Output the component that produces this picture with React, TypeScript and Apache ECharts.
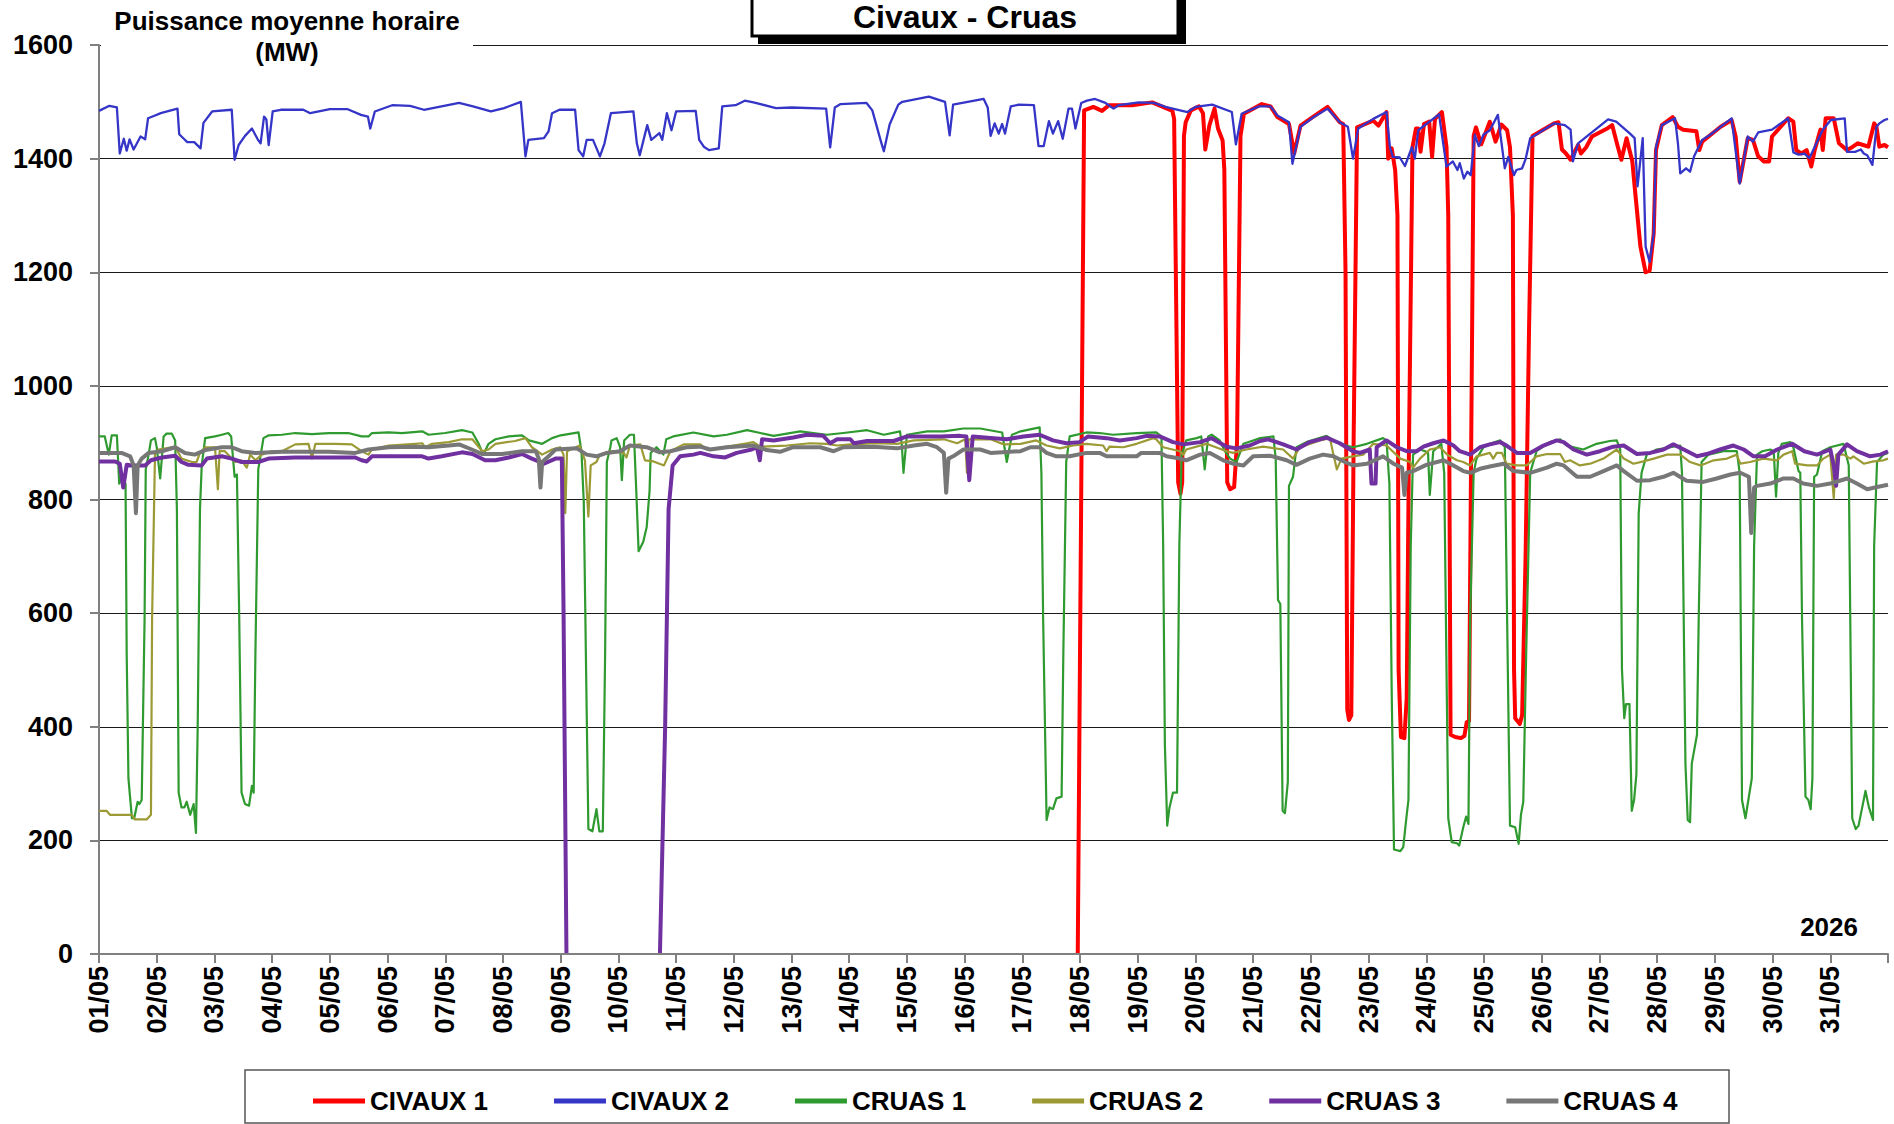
import React, { useEffect, useRef } from "react";
import * as echarts from "echarts";

const dayLabels = [
  "01/05", "02/05", "03/05", "04/05", "05/05", "06/05", "07/05", "08/05", "09/05", "10/05",
  "11/05", "12/05", "13/05", "14/05", "15/05", "16/05", "17/05", "18/05", "19/05", "20/05",
  "21/05", "22/05", "23/05", "24/05", "25/05", "26/05", "27/05", "28/05", "29/05", "30/05", "31/05",
];

const seriesNames = ["CIVAUX 1", "CIVAUX 2", "CRUAS 1", "CRUAS 2", "CRUAS 3", "CRUAS 4"];
const seriesColors = ["#FF0000", "#3535C8", "#2F9A2F", "#9C9A35", "#7030A0", "#777777"];
const seriesWidths = [4, 2.3, 2.2, 2.2, 4, 4];

// [day offset from 01/05 00:00, MW]; "-" = no data
const civaux1 = [
  [16.96, 0], [17.07, 1485], [17.23, 1491], [17.38, 1484], [17.5, 1494], [17.9, 1494], [18.25, 1499],
  [18.6, 1484], [18.63, 1470], [18.7, 830], [18.74, 810], [18.77, 830], [18.8, 1440], [18.83, 1464],
  [18.92, 1485], [19.06, 1492], [19.13, 1480], [19.17, 1416], [19.24, 1458], [19.33, 1488], [19.39, 1453],
  [19.47, 1432], [19.5, 1380], [19.55, 830], [19.6, 818], [19.67, 822], [19.72, 900], [19.78, 1440],
  [19.84, 1479], [20.15, 1496], [20.3, 1492], [20.42, 1473], [20.62, 1461], [20.71, 1409], [20.82, 1458],
  [21.03, 1473], [21.29, 1491], [21.5, 1464], [21.56, 1461], [21.6, 1200], [21.63, 430], [21.66, 412],
  [21.7, 420], [21.74, 900], [21.8, 1455], [22.08, 1467], [22.17, 1458], [22.31, 1482], [22.34, 1400],
  [22.4, 1418], [22.46, 1380], [22.5, 1300], [22.52, 500], [22.56, 382], [22.62, 380], [22.66, 450],
  [22.7, 900], [22.76, 1420], [22.82, 1453], [22.86, 1453], [22.9, 1412], [22.96, 1461], [23.05, 1465],
  [23.1, 1403], [23.15, 1470], [23.27, 1482], [23.35, 1420], [23.38, 1300], [23.42, 386], [23.5, 382],
  [23.6, 380], [23.66, 384], [23.7, 408], [23.74, 410], [23.82, 1440], [23.86, 1455], [23.95, 1425],
  [24.1, 1465], [24.2, 1430], [24.3, 1460], [24.4, 1450], [24.45, 1420], [24.5, 1300], [24.52, 500],
  [24.54, 415], [24.62, 405], [24.66, 420], [24.72, 700], [24.78, 1100], [24.84, 1440], [25.21, 1462],
  [25.29, 1464], [25.35, 1416], [25.42, 1409], [25.5, 1398], [25.63, 1424], [25.68, 1409], [25.77, 1420],
  [25.87, 1439], [26.15, 1454], [26.22, 1459], [26.31, 1424], [26.38, 1398], [26.47, 1436], [26.57, 1395],
  [26.61, 1351], [26.71, 1245], [26.8, 1200], [26.87, 1203], [26.94, 1268], [26.98, 1415], [27.08, 1459],
  [27.27, 1473], [27.36, 1456], [27.45, 1451], [27.68, 1448], [27.73, 1415], [27.78, 1430], [28.1, 1456],
  [28.29, 1468], [28.36, 1439], [28.43, 1359], [28.57, 1436], [28.66, 1433], [28.75, 1404], [28.85, 1395],
  [28.94, 1395], [28.99, 1439], [29.27, 1471], [29.36, 1465], [29.41, 1415], [29.5, 1409], [29.59, 1415],
  [29.67, 1386], [29.73, 1415], [29.83, 1451], [29.87, 1415], [29.92, 1471], [30.06, 1471], [30.15, 1427],
  [30.29, 1415], [30.39, 1421], [30.48, 1427], [30.57, 1424], [30.66, 1421], [30.76, 1462], [30.8, 1456],
  [30.85, 1421], [30.94, 1424], [31, 1420],
];

const civaux2 = [
  [0, 1484], [0.18, 1493], [0.31, 1490], [0.36, 1409], [0.43, 1435], [0.48, 1414], [0.53, 1434], [0.6, 1416],
  [0.72, 1439], [0.8, 1434], [0.85, 1471], [0.95, 1475], [1.07, 1480], [1.36, 1488], [1.39, 1443], [1.47, 1435],
  [1.53, 1429], [1.65, 1429], [1.76, 1418], [1.81, 1463], [1.96, 1483], [2.3, 1486], [2.35, 1398], [2.42, 1424],
  [2.53, 1440], [2.65, 1453], [2.75, 1434], [2.8, 1427], [2.86, 1474], [2.9, 1469], [2.94, 1424], [3.01, 1483],
  [3.15, 1486], [3.54, 1486], [3.66, 1480], [4.0, 1487], [4.31, 1487], [4.54, 1477], [4.66, 1474], [4.7, 1453],
  [4.78, 1483], [5.08, 1494], [5.39, 1493], [5.63, 1486], [6.24, 1498], [6.48, 1492], [6.79, 1483], [7.02, 1489],
  [7.31, 1500], [7.39, 1404], [7.44, 1433], [7.71, 1436], [7.79, 1448], [7.85, 1480], [7.98, 1486], [8.25, 1486],
  [8.31, 1415], [8.39, 1404], [8.45, 1433], [8.56, 1433], [8.68, 1404], [8.76, 1427], [8.87, 1480], [9.26, 1483],
  [9.32, 1427], [9.37, 1406], [9.5, 1459], [9.57, 1433], [9.71, 1445], [9.76, 1433], [9.84, 1480], [9.92, 1450],
  [10.0, 1483], [10.34, 1484], [10.4, 1433], [10.48, 1421], [10.57, 1415], [10.74, 1418], [10.8, 1492],
  [11.03, 1494], [11.19, 1502], [11.34, 1499], [11.73, 1489], [12.0, 1490], [12.6, 1488], [12.67, 1420],
  [12.75, 1490], [12.85, 1496], [13.3, 1498], [13.4, 1485], [13.55, 1430], [13.6, 1413], [13.7, 1460],
  [13.85, 1495], [13.92, 1500], [14.38, 1509], [14.66, 1500], [14.74, 1441], [14.8, 1495], [15.33, 1505],
  [15.4, 1490], [15.45, 1440], [15.52, 1462], [15.59, 1444], [15.65, 1461], [15.7, 1444], [15.8, 1492],
  [15.94, 1495], [16.2, 1494], [16.28, 1422], [16.37, 1422], [16.46, 1466], [16.53, 1444], [16.62, 1466],
  [16.7, 1435], [16.8, 1488], [16.86, 1488], [16.92, 1453], [17.02, 1498], [17.12, 1502], [17.26, 1505],
  [17.44, 1498], [17.58, 1488], [17.67, 1494], [18.02, 1499], [18.28, 1498], [18.48, 1491], [18.86, 1482],
  [19.0, 1491], [19.29, 1495], [19.63, 1482], [19.7, 1425], [19.8, 1479], [20.1, 1492], [20.3, 1492],
  [20.42, 1476], [20.62, 1464], [20.68, 1391], [20.82, 1456], [21.03, 1472], [21.29, 1488], [21.5, 1464],
  [21.64, 1456], [21.73, 1400], [21.82, 1453], [22.08, 1470], [22.31, 1482], [22.37, 1420], [22.42, 1403],
  [22.54, 1402], [22.63, 1387], [22.75, 1420], [22.8, 1400], [22.86, 1450], [23.22, 1478], [23.35, 1386],
  [23.46, 1395], [23.54, 1380], [23.58, 1392], [23.65, 1365], [23.71, 1377], [23.77, 1371], [23.84, 1442],
  [23.91, 1422], [23.99, 1442], [24.1, 1450], [24.24, 1477], [24.36, 1383], [24.42, 1403], [24.52, 1371],
  [24.56, 1380], [24.66, 1383], [24.72, 1399], [24.8, 1436], [25.21, 1462], [25.4, 1459], [25.5, 1451],
  [25.54, 1395], [25.63, 1427], [26.15, 1469], [26.29, 1465], [26.52, 1445], [26.61, 1436], [26.66, 1351],
  [26.75, 1436], [26.8, 1245], [26.87, 1218], [26.94, 1268], [26.98, 1421], [27.08, 1459], [27.31, 1471],
  [27.36, 1427], [27.4, 1374], [27.5, 1383], [27.57, 1377], [27.64, 1404], [27.78, 1433], [27.92, 1442],
  [28.29, 1471], [28.43, 1356], [28.57, 1439], [28.66, 1430], [28.75, 1446], [28.99, 1451], [29.27, 1471],
  [29.36, 1411], [29.45, 1407], [29.55, 1409], [29.64, 1401], [29.87, 1451], [30.01, 1468], [30.25, 1471],
  [30.29, 1412], [30.43, 1412], [30.53, 1416], [30.58, 1409], [30.64, 1406], [30.73, 1389], [30.8, 1456],
  [30.85, 1462], [30.94, 1468], [31, 1470],
];

const cruas1 = [
  [0, 911], [0.1, 911], [0.17, 879], [0.22, 913], [0.31, 913], [0.35, 828], [0.38, 834], [0.46, 828],
  [0.48, 527], [0.51, 309], [0.57, 239], [0.61, 239], [0.67, 268], [0.7, 264], [0.74, 271], [0.79, 591],
  [0.81, 853], [0.86, 879], [0.9, 904], [0.97, 908], [1.0, 892], [1.06, 837], [1.12, 911], [1.17, 916],
  [1.26, 916], [1.32, 904], [1.35, 783], [1.38, 284], [1.43, 258], [1.48, 258], [1.52, 268], [1.58, 245],
  [1.64, 264], [1.68, 213], [1.71, 399], [1.75, 783], [1.78, 860], [1.84, 908], [2.01, 911], [2.13, 914],
  [2.24, 917], [2.29, 911], [2.35, 840], [2.39, 844], [2.43, 591], [2.47, 284], [2.53, 264], [2.6, 261],
  [2.65, 296], [2.68, 284], [2.71, 527], [2.76, 853], [2.85, 908], [2.94, 913], [3.17, 914], [3.4, 917],
  [3.69, 915], [3.98, 917], [4.32, 917], [4.55, 911], [4.67, 911], [4.73, 917], [5.02, 918], [5.25, 917],
  [5.6, 920], [5.71, 914], [6.0, 917], [6.29, 922], [6.47, 918], [6.58, 898], [6.66, 879], [6.75, 898],
  [6.87, 906], [7.1, 911], [7.33, 913], [7.45, 904], [7.68, 898], [7.85, 908], [8.0, 913], [8.31, 918],
  [8.36, 885], [8.4, 796], [8.45, 431], [8.48, 220], [8.55, 216], [8.62, 255], [8.67, 216], [8.73, 216],
  [8.77, 527], [8.8, 866], [8.86, 892], [8.88, 904], [8.97, 908], [9.03, 892], [9.06, 834], [9.1, 904],
  [9.2, 914], [9.27, 914], [9.31, 815], [9.35, 709], [9.43, 725], [9.49, 751], [9.54, 815], [9.56, 882],
  [9.66, 892], [9.78, 879], [9.83, 906], [9.95, 911], [10.3, 918], [10.65, 911], [10.88, 914], [11.23, 922],
  [11.46, 917], [11.69, 912], [12.15, 920], [12.61, 914], [12.9, 917], [13.31, 922], [13.6, 914], [13.88, 920],
  [13.91, 898], [13.94, 847], [14.0, 914], [14.35, 920], [14.64, 920], [14.98, 925], [15.27, 925], [15.65, 918],
  [15.73, 866], [15.82, 914], [15.97, 920], [16.3, 927], [16.33, 847], [16.36, 591], [16.42, 236], [16.47, 258],
  [16.53, 255], [16.59, 274], [16.68, 277], [16.71, 527], [16.76, 866], [16.82, 911], [17.11, 918], [17.34, 917],
  [17.57, 914], [17.98, 917], [18.32, 918], [18.41, 911], [18.44, 719], [18.47, 367], [18.51, 226], [18.55, 258],
  [18.61, 284], [18.68, 284], [18.72, 719], [18.76, 879], [18.84, 904], [19.02, 908], [19.1, 911], [19.16, 853],
  [19.22, 911], [19.28, 914], [19.42, 904], [19.51, 885], [19.6, 872], [19.71, 866], [19.83, 898], [20.0, 904],
  [20.12, 908], [20.35, 911], [20.39, 872], [20.43, 623], [20.47, 616], [20.51, 252], [20.55, 248], [20.6, 303],
  [20.62, 824], [20.69, 840], [20.75, 892], [20.92, 901], [21.27, 912], [21.5, 898], [21.73, 892], [21.97, 898],
  [22.25, 908], [22.31, 904], [22.36, 828], [22.4, 463], [22.44, 184], [22.55, 181], [22.6, 188], [22.66, 245],
  [22.69, 271], [22.73, 719], [22.77, 879], [22.89, 888], [22.98, 885], [23.03, 882], [23.06, 808], [23.12, 885],
  [23.26, 898], [23.31, 847], [23.38, 239], [23.44, 197], [23.53, 195], [23.57, 191], [23.64, 223], [23.69, 242],
  [23.73, 229], [23.76, 591], [23.82, 847], [23.87, 872], [23.99, 892], [24.1, 898], [24.28, 904], [24.36, 892],
  [24.4, 591], [24.45, 226], [24.54, 223], [24.6, 194], [24.64, 245], [24.68, 268], [24.73, 527], [24.8, 847],
  [24.91, 885], [25.14, 901], [25.32, 906], [25.43, 895], [25.72, 888], [25.95, 898], [26.18, 903], [26.3, 904],
  [26.36, 888], [26.39, 501], [26.43, 415], [26.46, 440], [26.52, 440], [26.56, 252], [26.6, 271], [26.64, 316],
  [26.68, 776], [26.73, 847], [26.82, 879], [26.99, 888], [27.23, 892], [27.4, 895], [27.43, 847], [27.49, 335],
  [27.53, 236], [27.57, 232], [27.6, 335], [27.69, 386], [27.72, 591], [27.77, 866], [27.89, 879], [28.15, 885],
  [28.38, 885], [28.43, 847], [28.47, 271], [28.53, 239], [28.58, 271], [28.64, 309], [28.68, 719], [28.73, 879],
  [28.82, 885], [28.96, 888], [29.02, 885], [29.06, 805], [29.1, 882], [29.16, 898], [29.31, 901], [29.36, 892],
  [29.45, 850], [29.48, 847], [29.51, 591], [29.57, 277], [29.62, 271], [29.66, 255], [29.69, 309], [29.72, 840],
  [29.77, 844], [29.86, 885], [30.0, 892], [30.23, 898], [30.32, 860], [30.38, 239], [30.44, 220], [30.49, 226],
  [30.61, 287], [30.67, 258], [30.74, 236], [30.76, 719], [30.81, 866], [30.92, 879], [31, 882],
];

const cruas2 = [
  [0, 252], [0.13, 252], [0.19, 245], [0.57, 245], [0.62, 237], [0.83, 237], [0.9, 245], [0.92, 591],
  [0.97, 879], [1.03, 888], [1.26, 892], [1.32, 893], [1.43, 872], [1.61, 866], [1.69, 866], [1.75, 882],
  [1.84, 892], [2.01, 892], [2.06, 818], [2.09, 885], [2.18, 885], [2.3, 872], [2.36, 866], [2.47, 869],
  [2.56, 856], [2.62, 879], [2.71, 869], [2.82, 879], [2.99, 885], [3.17, 885], [3.4, 897], [3.63, 898],
  [3.69, 872], [3.75, 898], [4.09, 898], [4.38, 897], [4.55, 885], [4.67, 879], [4.73, 888], [5.02, 895],
  [5.48, 898], [5.6, 899], [5.65, 892], [5.77, 898], [6.06, 901], [6.29, 906], [6.47, 906], [6.64, 885],
  [6.75, 888], [6.87, 898], [7.21, 903], [7.39, 908], [7.5, 892], [7.68, 879], [7.85, 888], [7.99, 892],
  [8.05, 879], [8.08, 776], [8.11, 885], [8.33, 895], [8.42, 869], [8.48, 770], [8.52, 860], [8.62, 866],
  [8.68, 879], [8.86, 885], [9.09, 882], [9.14, 874], [9.2, 895], [9.38, 897], [9.46, 869], [9.61, 867],
  [9.79, 860], [9.9, 885], [10.13, 897], [10.42, 897], [10.53, 888], [10.88, 893], [11.23, 899], [11.34, 901],
  [11.46, 893], [11.92, 895], [12.32, 899], [12.61, 898], [12.79, 895], [13.02, 897], [13.48, 899], [13.83, 898],
  [14.12, 904], [14.64, 906], [14.87, 899], [15.01, 906], [15.04, 847], [15.07, 906], [15.45, 906], [15.68, 897],
  [15.97, 898], [16.24, 904], [16.42, 895], [16.65, 890], [16.88, 895], [17.11, 898], [17.4, 895], [17.46, 885],
  [17.51, 893], [17.75, 892], [17.98, 898], [18.27, 908], [18.32, 906], [18.44, 892], [18.73, 885], [18.79, 879],
  [18.84, 888], [19.19, 898], [19.54, 885], [19.65, 882], [19.88, 888], [20.17, 893], [20.52, 888], [20.69, 872],
  [20.81, 892], [21.16, 904], [21.33, 908], [21.39, 879], [21.45, 853], [21.53, 872], [21.73, 876], [21.91, 879],
  [22.08, 898], [22.31, 895], [22.55, 872], [22.72, 866], [22.77, 856], [22.89, 872], [23.06, 888], [23.24, 892],
  [23.36, 879], [23.53, 869], [23.64, 866], [23.76, 860], [23.87, 876], [23.99, 879], [24.1, 882], [24.16, 872],
  [24.22, 882], [24.31, 882], [24.39, 863], [24.57, 860], [24.74, 860], [24.91, 876], [25.09, 880], [25.32, 880],
  [25.4, 866], [25.49, 869], [25.66, 860], [25.84, 863], [26.07, 872], [26.3, 888], [26.42, 872], [26.59, 863],
  [26.76, 867], [26.94, 872], [27.17, 879], [27.4, 879], [27.57, 866], [27.75, 860], [27.98, 869], [28.21, 872],
  [28.38, 879], [28.44, 863], [28.61, 866], [28.84, 872], [29.08, 869], [29.19, 879], [29.34, 885], [29.39, 863],
  [29.6, 860], [29.77, 860], [29.88, 872], [30.0, 879], [30.06, 802], [30.1, 879], [30.23, 879], [30.35, 872],
  [30.4, 876], [30.58, 863], [30.75, 867], [30.92, 869], [31, 872],
];

const cruas3 = [
  [0, 867], [0.28, 867], [0.36, 863], [0.42, 821], [0.48, 861], [0.57, 860], [0.8, 860], [0.9, 869],
  [1.09, 874], [1.32, 877], [1.43, 866], [1.55, 861], [1.78, 860], [1.87, 872], [2.13, 876], [2.3, 872],
  [2.47, 866], [2.76, 866], [2.94, 872], [3.4, 874], [3.98, 874], [4.44, 874], [4.55, 869], [4.64, 867],
  [4.73, 876], [5.13, 876], [5.6, 876], [5.71, 872], [5.94, 876], [6.29, 883], [6.47, 880], [6.69, 869],
  [6.87, 869], [7.1, 874], [7.33, 880], [7.5, 872], [7.71, 863], [7.91, 872], [8.02, 872], [8.05, 600],
  [8.1, 0], [8.9, "-"], [9.72, 0], [9.81, 399], [9.87, 783], [9.94, 860], [10.07, 876], [10.3, 879], [10.42, 882],
  [10.65, 876], [10.85, 874], [11.05, 882], [11.31, 888], [11.4, 892], [11.45, 869], [11.49, 906], [11.69, 904],
  [12.03, 909], [12.27, 914], [12.55, 912], [12.67, 899], [12.79, 906], [13.02, 906], [13.08, 899], [13.31, 903],
  [13.77, 903], [14.0, 911], [14.35, 911], [14.58, 911], [14.92, 912], [15.03, 911], [15.08, 834], [15.14, 911],
  [15.5, 908], [15.73, 906], [16.02, 911], [16.3, 914], [16.53, 904], [16.76, 899], [16.99, 901], [17.14, 911],
  [17.46, 908], [17.69, 904], [17.98, 908], [18.15, 912], [18.38, 911], [18.61, 901], [18.79, 897], [19.08, 901],
  [19.28, 908], [19.54, 893], [19.71, 890], [19.94, 895], [20.12, 903], [20.26, 906], [20.52, 897], [20.75, 888],
  [20.98, 901], [21.27, 909], [21.5, 899], [21.73, 885], [21.85, 882], [22.02, 888], [22.05, 828], [22.12, 828],
  [22.14, 892], [22.31, 904], [22.49, 892], [22.66, 885], [22.83, 885], [22.95, 893], [23.12, 899], [23.3, 904],
  [23.47, 895], [23.58, 885], [23.76, 879], [23.93, 892], [24.1, 897], [24.28, 901], [24.39, 895], [24.57, 882],
  [24.8, 882], [25.03, 895], [25.26, 904], [25.38, 901], [25.55, 888], [25.78, 879], [26.01, 885], [26.24, 893],
  [26.42, 895], [26.65, 880], [26.88, 882], [27.11, 888], [27.28, 897], [27.46, 888], [27.69, 876], [27.86, 880],
  [28.09, 888], [28.32, 895], [28.5, 888], [28.67, 876], [28.87, 876], [29.08, 888], [29.34, 898], [29.55, 885],
  [29.77, 879], [30.0, 888], [30.06, 860], [30.1, 824], [30.14, 879], [30.29, 897], [30.46, 885], [30.69, 876],
  [30.87, 879], [31, 885],
];

const cruas4 = [
  [0, 882], [0.39, 882], [0.54, 876], [0.6, 860], [0.64, 776], [0.67, 860], [0.74, 872], [0.86, 882],
  [1.09, 885], [1.32, 892], [1.49, 882], [1.66, 879], [1.84, 887], [2.13, 892], [2.3, 892], [2.47, 885],
  [2.71, 882], [3.17, 884], [3.98, 884], [4.44, 882], [4.67, 888], [5.02, 892], [5.48, 893], [5.71, 892],
  [6.06, 895], [6.24, 897], [6.46, 888], [6.64, 880], [6.98, 880], [7.33, 885], [7.57, 885], [7.62, 872],
  [7.65, 821], [7.68, 866], [7.79, 876], [7.91, 888], [8.28, 890], [8.45, 879], [8.62, 876], [8.8, 882],
  [9.03, 885], [9.2, 895], [9.49, 892], [9.72, 883], [9.9, 885], [10.18, 892], [10.42, 893], [10.59, 888],
  [10.88, 892], [11.34, 895], [11.57, 887], [11.8, 884], [12.03, 892], [12.5, 892], [12.73, 885], [12.9, 892],
  [13.42, 893], [13.83, 890], [14.12, 895], [14.35, 898], [14.52, 892], [14.64, 882], [14.68, 812], [14.72, 872],
  [14.8, 876], [14.98, 888], [15.27, 888], [15.45, 882], [15.97, 885], [16.14, 892], [16.3, 892], [16.42, 882],
  [16.59, 876], [16.82, 876], [17.11, 882], [17.34, 882], [17.46, 876], [17.98, 876], [18.06, 882], [18.38, 882],
  [18.5, 876], [18.73, 872], [18.84, 869], [19.08, 879], [19.25, 882], [19.48, 869], [19.65, 863], [19.83, 860],
  [20.0, 876], [20.29, 877], [20.58, 869], [20.75, 861], [20.98, 872], [21.21, 879], [21.39, 876], [21.59, 866],
  [21.73, 860], [21.97, 863], [22.25, 876], [22.43, 863], [22.58, 856], [22.62, 808], [22.66, 847], [22.77, 850],
  [23.0, 861], [23.3, 869], [23.47, 860], [23.64, 850], [23.76, 847], [23.93, 854], [24.1, 858], [24.34, 863],
  [24.51, 850], [24.8, 847], [25.09, 856], [25.26, 863], [25.38, 860], [25.61, 840], [25.84, 840], [26.07, 850],
  [26.3, 860], [26.42, 850], [26.65, 833], [26.88, 834], [27.11, 840], [27.28, 847], [27.51, 833], [27.8, 831],
  [28.03, 837], [28.27, 844], [28.44, 847], [28.59, 840], [28.63, 741], [28.68, 821], [28.73, 824], [28.96, 828],
  [29.19, 837], [29.36, 837], [29.53, 828], [29.77, 824], [30.0, 828], [30.29, 837], [30.46, 828], [30.64, 818],
  [30.81, 822], [31, 826],
];

const seriesData = [civaux1, civaux2, cruas1, cruas2, cruas3, cruas4];

const yMin = 0;
const yMax = 1600;
const yStep = 200;

const FONT = '"Liberation Sans", Arial, Helvetica, sans-serif';

export default function App() {
  const ref = useRef<HTMLDivElement>(null);

  useEffect(() => {
    if (!ref.current) return;
    const chart = echarts.init(ref.current, undefined, { renderer: "svg" });
    const option = {
      animation: false,
      backgroundColor: "#ffffff",
      textStyle: { fontFamily: FONT },
      grid: { left: 99, right: 6, top: 45, bottom: 170, containLabel: false },
      xAxis: {
        type: "value",
        min: 0,
        max: dayLabels.length,
        interval: 1,
        z: 5,
        axisLine: { show: true, lineStyle: { color: "#808080", width: 2 } },
        axisTick: { show: true, length: 9, lineStyle: { color: "#808080", width: 2 } },
        splitLine: { show: false },
        axisLabel: {
          rotate: 90,
          margin: 12,
          fontSize: 27,
          fontWeight: "bold",
          fontFamily: FONT,
          color: "#000",
          formatter: (v: number) => dayLabels[Math.round(v)] ?? "",
        },
      },
      yAxis: {
        type: "value",
        min: yMin,
        max: yMax,
        interval: yStep,
        axisLine: { show: true, lineStyle: { color: "#808080", width: 2 } },
        axisTick: { show: true, length: 9, lineStyle: { color: "#808080", width: 2 } },
        splitLine: { show: true, lineStyle: { color: "#1a1a1a", width: 1 } },
        axisLabel: {
          margin: 26,
          fontSize: 27,
          fontWeight: "bold",
          fontFamily: FONT,
          color: "#000",
          formatter: (v: number) => String(v),
        },
      },
      legend: {
        show: true,
        left: 308,
        top: 1083,
        icon: "rect",
        itemWidth: 52,
        itemHeight: 5,
        itemGap: 66,
        textStyle: { fontSize: 26, fontWeight: "bold", fontFamily: FONT, color: "#000" },
        data: seriesNames,
      },
      series: seriesNames.map((name, i) => ({
        name,
        type: "line",
        data: seriesData[i],
        symbol: "none",
        showSymbol: false,
        connectNulls: false,
        color: seriesColors[i],
        lineStyle: { color: seriesColors[i], width: seriesWidths[i], join: "round" },
        itemStyle: { color: seriesColors[i] },
        silent: true,
      })),
      graphic: [
        {
          type: "rect",
          z: 100,
          shape: { x: 101, y: 0, width: 372, height: 66 },
          style: { fill: "#ffffff" },
        },
        {
          type: "text",
          z: 101,
          style: {
            text: "Puissance moyenne horaire",
            x: 287,
            y: 21,
            align: "center",
            verticalAlign: "middle",
            fontSize: 26,
            fontWeight: "bold",
            fontFamily: FONT,
            fill: "#000",
          },
        },
        {
          type: "text",
          z: 101,
          style: {
            text: "(MW)",
            x: 287,
            y: 52,
            align: "center",
            verticalAlign: "middle",
            fontSize: 26,
            fontWeight: "bold",
            fontFamily: FONT,
            fill: "#000",
          },
        },
        {
          type: "rect",
          z: 100,
          shape: { x: 758, y: -10, width: 428, height: 54 },
          style: { fill: "#000000" },
        },
        {
          type: "rect",
          z: 101,
          shape: { x: 752, y: -10, width: 426, height: 46 },
          style: { fill: "#ffffff", stroke: "#000000", lineWidth: 3 },
        },
        {
          type: "text",
          z: 102,
          style: {
            text: "Civaux - Cruas",
            x: 965,
            y: 17,
            align: "center",
            verticalAlign: "middle",
            fontSize: 32,
            fontWeight: "bold",
            fontFamily: FONT,
            fill: "#000",
          },
        },
        {
          type: "text",
          z: 101,
          style: {
            text: "2026",
            x: 1858,
            y: 927,
            align: "right",
            verticalAlign: "middle",
            fontSize: 26,
            fontWeight: "bold",
            fontFamily: FONT,
            fill: "#000",
          },
        },
        {
          type: "rect",
          z: 90,
          shape: { x: 245, y: 1070, width: 1484, height: 53 },
          style: { fill: "none", stroke: "#555555", lineWidth: 1.5 },
        },
      ],
    };
    chart.setOption(option as any);
    return () => {
      chart.dispose();
    };
  }, []);

  return (
    <div
      ref={ref}
      style={{ position: "absolute", left: 0, top: 0, width: 1894, height: 1124, background: "#fff" }}
    />
  );
}
